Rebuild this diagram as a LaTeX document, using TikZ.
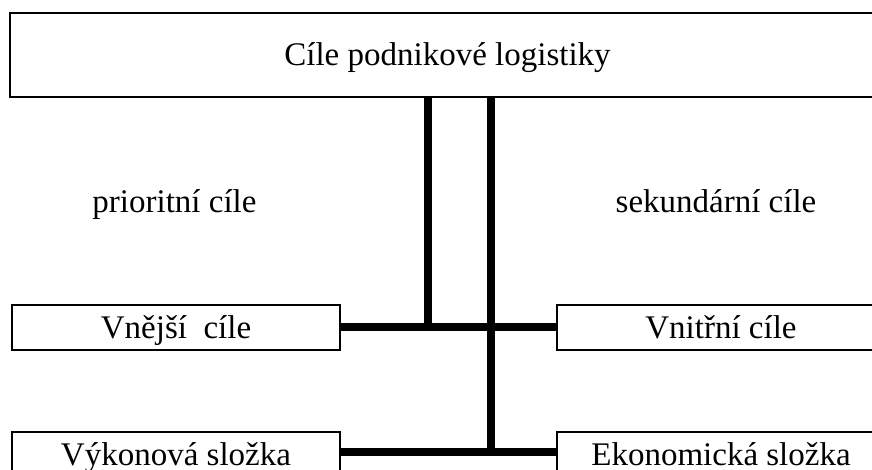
\documentclass[tikz,border=0pt]{standalone}
\usepackage{fontspec}
\setmainfont{Liberation Serif}
\begin{document}
\begin{tikzpicture}[x=1pt,y=-1pt,
  box/.style={draw,line width=1.5pt,inner sep=0pt,text height=22pt,text depth=0pt,
    font=\fontsize{33}{40}\selectfont},
  lbl/.style={anchor=base,inner sep=0pt,font=\fontsize{33}{40}\selectfont},
  bus/.style={line width=8.5pt}]
\useasboundingbox (0,0) rectangle (872,470);
\begin{scope}
\clip (0,0) rectangle (872,470);

\node[box,minimum width=875pt,minimum height=84pt] (top) at (447.5,55) {Cíle podnikové logistiky};

\node[box,minimum width=328pt,minimum height=45pt] (vne) at (176,327.5) {Vnější\ \ cíle};
\node[box,minimum width=328pt,minimum height=45pt] (vni) at (721,327.5) {Vnitřní cíle};
\node[box,minimum width=328pt,minimum height=45pt] (vyk) at (176,454.5) {Výkonová složka};
\node[box,minimum width=328pt,minimum height=45pt] (eko) at (721,454.5) {Ekonomická složka};

\node[lbl] (pri) at (174.5,213) {prioritní cíle};
\node[lbl] (sek) at (716,213) {sekundární cíle};

\coordinate (j1) at (428,327);
\coordinate (j2) at (491,452);

\draw[bus] (vne.east |- j1) -- (vni.west |- j1);
\draw[bus] (vyk.east |- j2) -- (eko.west |- j2);
\draw[bus] (j1 |- top.south) -- (j1);
\draw[bus] (j2 |- top.south) -- (j2);
\end{scope}
\end{tikzpicture}
\end{document}
